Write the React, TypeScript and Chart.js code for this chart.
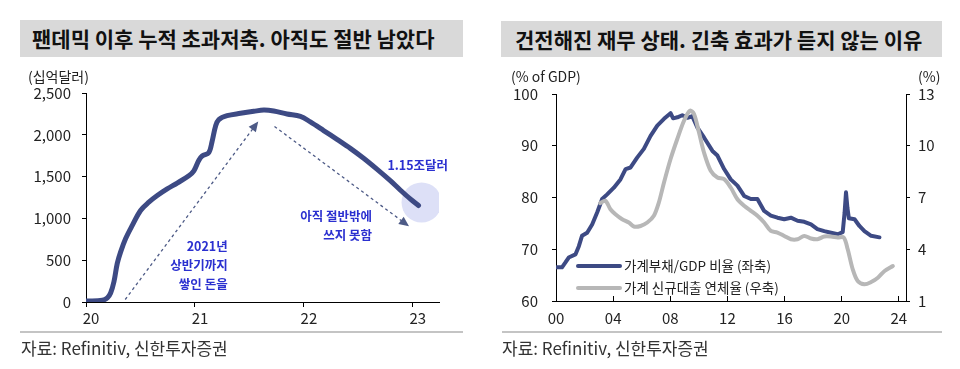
import React, { useEffect, useRef } from "react";
import { Chart, registerables } from "chart.js";

Chart.register(...registerables);

const FONT = '"Noto Sans CJK KR", "Noto Sans", sans-serif';

// ---------- Left chart: cumulative excess savings (billion USD) ----------
const savingsYears = [
  20.006, 20.15, 20.196, 20.226, 20.257, 20.287, 20.318, 20.364, 20.425, 20.501,
  20.577, 20.654, 20.745, 20.837, 20.944, 20.99, 21.036, 21.066, 21.127, 21.158,
  21.189, 21.219, 21.295, 21.418, 21.54, 21.632, 21.723, 21.845, 21.968, 22.059,
  22.181, 22.304, 22.426, 22.548, 22.67, 22.793, 22.884, 22.976, 23.052,
];
const savingsValues = [
  12, 20, 50, 107, 245, 462, 600, 759, 917, 1095,
  1194, 1273, 1352, 1423, 1510, 1569, 1696, 1747, 1787, 1925,
  2103, 2182, 2229, 2257, 2281, 2296, 2285, 2249, 2221, 2154,
  2051, 1945, 1838, 1719, 1589, 1451, 1340, 1233, 1154,
];
const savingsXTicks = [20, 21, 22, 23];
const savingsYTicks = [0, 500, 1000, 1500, 2000, 2500];
const highlightYears = [23.08];
const highlightValues = [1190];
const arrowUpYears = [20.36, 21.57];
const arrowUpValues = [30, 2140];
const arrowDownYears = [21.73, 22.95];
const arrowDownValues = [2100, 920];
const noteTexts = [
  ["2021년", "상반기까지", "쌓인 돈을"],
  ["아직 절반밖에", "쓰지 못함"],
  ["1.15조달러"],
];
const noteYears = [21.3, 22.625, 23.045];
const noteValues = [663, 1021, 1638];
const noteAligns = ["right", "right", "center"];

// ---------- Right chart: household debt / GDP and delinquency ----------
const debtYears = [
  0.05, 0.42, 0.65, 0.89, 1.36, 1.6, 1.82, 2.18, 2.53, 2.88,
  3.23, 3.58, 4.05, 4.51, 4.87, 5.22, 5.68, 6.15, 6.62, 7.09,
  7.56, 8.02, 8.2, 8.5, 8.84, 9.2, 9.54, 9.9, 10.36, 10.95,
  11.3, 11.77, 12.23, 12.7, 13.17, 13.64, 14.1, 14.57, 15.04, 15.5,
  15.98, 16.44, 16.91, 17.38, 17.85, 18.3, 18.78, 19.25, 19.72, 20.07,
  20.2, 20.3, 20.4, 20.5, 20.9, 21.24, 21.59, 22.06, 22.64,
];
const debtRatio = [
  66.5, 66.5, 67.4, 68.4, 69.0, 70.6, 72.6, 73.2, 74.8, 77.1,
  79.7, 80.6, 81.9, 83.5, 85.5, 85.8, 87.7, 89.4, 91.9, 93.9,
  95.2, 96.3, 95.3, 95.5, 95.9, 95.4, 95.7, 93.5, 91.6, 89.0,
  88.1, 85.5, 83.5, 82.3, 80.3, 79.7, 79.7, 77.4, 76.5, 76.1,
  75.8, 76.1, 75.5, 75.3, 74.8, 73.9, 73.5, 73.2, 72.9, 73.3,
  77.0, 81.0, 78.0, 76.0, 75.8, 74.5, 73.5, 72.6, 72.3,
];
const delinqYears = [
  3.09, 3.46, 3.81, 4.16, 4.63, 5.1, 5.45, 5.92, 6.39, 6.85,
  7.2, 7.56, 8.02, 8.49, 8.96, 9.38, 9.66, 10.01, 10.36, 10.83,
  11.3, 11.77, 12.23, 12.7, 13.17, 13.64, 14.1, 14.57, 15.04, 15.5,
  15.98, 16.44, 16.91, 17.38, 17.85, 18.3, 18.78, 19.25, 19.72, 20.14,
  20.42, 20.77, 21.12, 21.59, 22.06, 22.53, 23.0, 23.58,
];
const delinqRate = [
  6.67, 6.81, 6.32, 6.03, 5.74, 5.55, 5.32, 5.35, 5.55, 5.94,
  6.71, 7.87, 9.23, 10.39, 11.45, 12.03, 11.84, 10.77, 9.61, 8.55,
  8.16, 8.06, 7.58, 6.9, 6.52, 6.23, 5.94, 5.55, 5.06, 4.97,
  4.77, 4.58, 4.58, 4.77, 4.62, 4.58, 4.74, 4.74, 4.68, 4.68,
  4.0, 2.84, 2.16, 1.97, 2.1, 2.35, 2.74, 3.03,
];
const yearTicks = [0, 4, 8, 12, 16, 20, 24];
const yearLabels = ["00", "04", "08", "12", "16", "20", "24"];
const gdpTicks = [60, 70, 80, 90, 100];
const rateTicks = [1, 4, 7, 10, 13];
const seriesNames = ["가계부채/GDP 비율 (좌축)", "가계 신규대출 연체율 (우축)"];

const NAVY = "#3d4a84";
const GRAY = "#b7b7b7";
const NOTE_BLUE = "#2b30d0";
const ARROW = "#4d5a86";

const zip = (xs: number[], ys: number[]) => xs.map((x, i) => ({ x, y: ys[i] }));

const tickFont = { family: FONT, size: 15 };

const arrowPlugin = {
  id: "arrowHeads",
  afterDatasetsDraw(chart: any) {
    const ctx = chart.ctx;
    chart.data.datasets.forEach((ds: any, i: number) => {
      if (!ds.isArrow) return;
      const pts = chart.getDatasetMeta(i).data;
      const a = pts[pts.length - 2];
      const b = pts[pts.length - 1];
      const ang = Math.atan2(b.y - a.y, b.x - a.x);
      ctx.save();
      ctx.fillStyle = ds.borderColor;
      ctx.translate(b.x, b.y);
      ctx.rotate(ang);
      ctx.beginPath();
      ctx.moveTo(2, 0);
      ctx.lineTo(-8, -4.5);
      ctx.lineTo(-8, 4.5);
      ctx.closePath();
      ctx.fill();
      ctx.restore();
    });
  },
};

const notesPlugin = {
  id: "notes",
  afterDraw(chart: any) {
    const ctx = chart.ctx;
    const xs = chart.scales.x;
    const ys = chart.scales.y;
    ctx.save();
    ctx.fillStyle = NOTE_BLUE;
    ctx.font = `bold 12.5px ${FONT}`;
    ctx.textBaseline = "middle";
    noteTexts.forEach((lines, i) => {
      const px = xs.getPixelForValue(noteYears[i]);
      const py = ys.getPixelForValue(noteValues[i]);
      ctx.textAlign = noteAligns[i];
      lines.forEach((t, j) => ctx.fillText(t, px, py + j * 19));
    });
    ctx.restore();
  },
};

const legendPlugin = {
  id: "innerLegend",
  afterDraw(chart: any) {
    const ctx = chart.ctx;
    const area = chart.chartArea;
    ctx.save();
    ctx.font = `13.5px ${FONT}`;
    ctx.textBaseline = "middle";
    ctx.textAlign = "left";
    chart.data.datasets.forEach((ds: any, i: number) => {
      const y = area.bottom - 35 + i * 22;
      const x0 = area.left + 22;
      ctx.strokeStyle = ds.borderColor;
      ctx.lineWidth = 4;
      ctx.lineCap = "round";
      ctx.beginPath();
      ctx.moveTo(x0, y);
      ctx.lineTo(x0 + 42, y);
      ctx.stroke();
      ctx.fillStyle = "#222";
      ctx.fillText(ds.label, x0 + 46, y);
    });
    ctx.restore();
  },
};

const baseGrid = (len: number) => ({
  display: true,
  drawOnChartArea: false,
  drawTicks: true,
  tickLength: len,
  color: "#000",
  lineWidth: 1,
});
const border = { display: true, color: "#000", width: 1 };

function LeftChart() {
  const ref = useRef<HTMLCanvasElement>(null);
  useEffect(() => {
    const chart = new Chart(ref.current as HTMLCanvasElement, {
      type: "line",
      data: {
        datasets: [
          {
            label: "savings",
            data: zip(savingsYears, savingsValues),
            borderColor: NAVY,
            borderWidth: 5,
            tension: 0.35,
            pointRadius: 0,
            borderCapStyle: "round",
            borderJoinStyle: "round",
            order: 0,
          } as any,
          {
            label: "highlight",
            data: zip(highlightYears, highlightValues),
            showLine: false,
            pointRadius: 20,
            pointBackgroundColor: "#dde0f7",
            pointBorderWidth: 0,
            order: 5,
          },
          {
            label: "up",
            data: zip(arrowUpYears, arrowUpValues),
            borderColor: ARROW,
            borderWidth: 1.3,
            borderDash: [3, 3],
            pointRadius: 0,
            isArrow: true,
            order: 3,
          },
          {
            label: "down",
            data: zip(arrowDownYears, arrowDownValues),
            borderColor: ARROW,
            borderWidth: 1.3,
            borderDash: [3, 3],
            pointRadius: 0,
            isArrow: true,
            order: 3,
          },
        ],
      },
      options: {
        responsive: false,
        animation: false,
        devicePixelRatio: 1,
        events: [],
        layout: { padding: { left: 0, top: 93, right: 41, bottom: 37 } },
        plugins: { legend: { display: false }, tooltip: { enabled: false } },
        scales: {
          x: {
            type: "linear",
            min: 20,
            max: 23.24,
            afterBuildTicks: (s: any) => {
              s.ticks = savingsXTicks.map((v) => ({ value: v }));
            },
            afterFit: (s: any) => {
              s.height = 30;
            },
            ticks: {
              callback: (v: any) => String(v),
              font: tickFont,
              color: "#222",
              padding: 2,
              labelOffset: 5,
              maxRotation: 0,
              autoSkip: false,
            },
            grid: baseGrid(5),
            border,
          },
          y: {
            type: "linear",
            min: 0,
            max: 2500,
            afterBuildTicks: (s: any) => {
              s.ticks = savingsYTicks.map((v) => ({ value: v }));
            },
            afterFit: (s: any) => {
              s.width = 86;
            },
            ticks: {
              callback: (v: any) => Number(v).toLocaleString("en-US"),
              font: tickFont,
              color: "#222",
              padding: 11,
            },
            grid: baseGrid(4),
            border,
          },
        },
      } as any,
      plugins: [arrowPlugin, notesPlugin],
    });
    return () => chart.destroy();
  }, []);
  return (
    <canvas
      ref={ref}
      width={480}
      height={369}
      style={{ position: "absolute", left: 0, top: 0, width: 480, height: 369 }}
    />
  );
}

function RightChart() {
  const ref = useRef<HTMLCanvasElement>(null);
  useEffect(() => {
    const chart = new Chart(ref.current as HTMLCanvasElement, {
      type: "line",
      data: {
        datasets: [
          {
            label: seriesNames[0],
            data: zip(debtYears, debtRatio),
            borderColor: NAVY,
            borderWidth: 4,
            tension: 0,
            pointRadius: 0,
            yAxisID: "y",
            borderCapStyle: "round",
            borderJoinStyle: "round",
            order: 1,
          } as any,
          {
            label: seriesNames[1],
            data: zip(delinqYears, delinqRate),
            borderColor: GRAY,
            borderWidth: 4,
            tension: 0.3,
            pointRadius: 0,
            yAxisID: "y1",
            borderCapStyle: "round",
            borderJoinStyle: "round",
            order: 0,
          },
        ],
      },
      options: {
        responsive: false,
        animation: false,
        devicePixelRatio: 1,
        events: [],
        layout: { padding: { left: 0, top: 94, right: 0, bottom: 38 } },
        plugins: { legend: { display: false }, tooltip: { enabled: false } },
        scales: {
          x: {
            type: "linear",
            min: 0,
            max: 24.5,
            afterBuildTicks: (s: any) => {
              s.ticks = yearTicks.map((v) => ({ value: v }));
            },
            afterFit: (s: any) => {
              s.height = 30;
            },
            ticks: {
              callback: (_v: any, i: number) => yearLabels[i],
              font: tickFont,
              color: "#222",
              padding: 13,
              maxRotation: 0,
              autoSkip: false,
            },
            grid: baseGrid(-5),
            border,
          },
          y: {
            type: "linear",
            position: "left",
            min: 60,
            max: 100,
            afterBuildTicks: (s: any) => {
              s.ticks = gdpTicks.map((v) => ({ value: v }));
            },
            afterFit: (s: any) => {
              s.width = 76;
            },
            ticks: { font: tickFont, color: "#222", padding: 14 },
            grid: baseGrid(4),
            border,
          },
          y1: {
            type: "linear",
            position: "right",
            min: 1,
            max: 13,
            afterBuildTicks: (s: any) => {
              s.ticks = rateTicks.map((v) => ({ value: v }));
            },
            afterFit: (s: any) => {
              s.width = 54;
            },
            ticks: { font: tickFont, color: "#222", padding: 8 },
            grid: baseGrid(4),
            border,
          },
        },
      } as any,
      plugins: [legendPlugin],
    });
    return () => chart.destroy();
  }, []);
  return (
    <canvas
      ref={ref}
      width={480}
      height={369}
      style={{ position: "absolute", left: 480, top: 0, width: 480, height: 369 }}
    />
  );
}

const abs = (s: React.CSSProperties): React.CSSProperties => ({
  position: "absolute",
  fontFamily: FONT,
  whiteSpace: "nowrap",
  ...s,
});

export default function App() {
  return (
    <div
      style={{
        position: "absolute",
        left: 0,
        top: 0,
        width: 960,
        height: 369,
        background: "#fff",
        overflow: "hidden",
      }}
    >
      <LeftChart />
      <RightChart />
      <div
        style={abs({
          left: 20,
          top: 20,
          width: 443,
          height: 37,
          background: "#d9d9d9",
          boxSizing: "border-box",
          paddingLeft: 12,
          lineHeight: "37px",
          fontSize: 21,
          fontWeight: 700,
          color: "#111",
        })}
      >
        팬데믹 이후 누적 초과저축. 아직도 절반 남았다
      </div>
      <div
        style={abs({
          left: 501,
          top: 21,
          width: 441,
          height: 36,
          background: "#d9d9d9",
          boxSizing: "border-box",
          paddingLeft: 14,
          lineHeight: "36px",
          fontSize: 21,
          fontWeight: 700,
          color: "#111",
        })}
      >
        건전해진 재무 상태. 긴축 효과가 듣지 않는 이유
      </div>
      <div style={abs({ left: 28, top: 67, fontSize: 14, lineHeight: "18px", color: "#222" })}>(십억달러)</div>
      <div style={abs({ left: 511, top: 67, fontSize: 14, lineHeight: "18px", color: "#222" })}>(% of GDP)</div>
      <div style={abs({ left: 918, top: 67, fontSize: 14, lineHeight: "18px", color: "#222" })}>(%)</div>
      <div style={abs({ left: 20, top: 331, width: 443, height: 2, background: "#c4c4c4" })} />
      <div style={abs({ left: 502, top: 331, width: 440, height: 2, background: "#c4c4c4" })} />
      <div style={abs({ left: 21, top: 337, fontSize: 17, lineHeight: "22px", color: "#333" })}>
        자료: Refinitiv, 신한투자증권
      </div>
      <div style={abs({ left: 502, top: 337, fontSize: 17, lineHeight: "22px", color: "#333" })}>
        자료: Refinitiv, 신한투자증권
      </div>
    </div>
  );
}
